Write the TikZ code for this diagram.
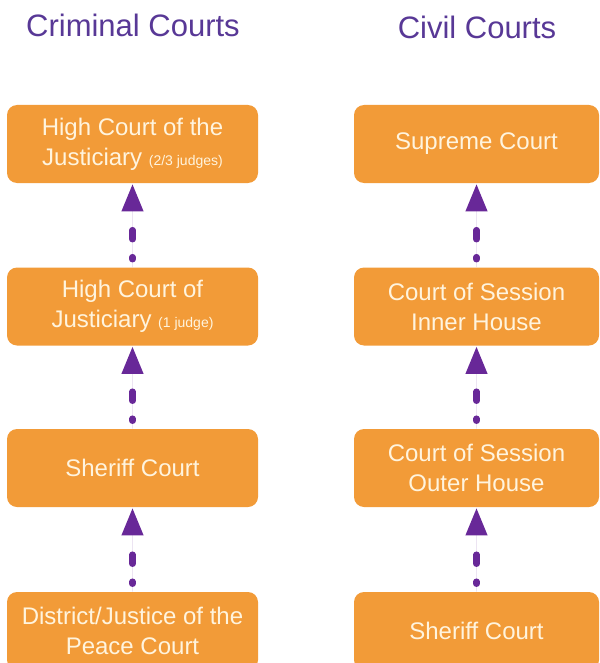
\documentclass[tikz,border=0pt]{standalone}
\usepackage{fontspec}
\setmainfont{Liberation Sans}
\usetikzlibrary{arrows.meta}
\definecolor{courtorange}{RGB}{242,155,56}
\definecolor{courttext}{RGB}{255,244,222}
\definecolor{titlepurple}{RGB}{88,56,150}
\definecolor{arrowpurple}{RGB}{104,40,152}
\newcommand{\judges}[1]{{\fontsize{14}{16}\selectfont #1}}

\begin{document}
\begin{tikzpicture}[x=1pt, y=-1pt, >={Triangle[width=20pt,length=28pt]}, semithick]
    \tikzstyle{court}=[rectangle, rounded corners=10pt, fill=courtorange, text=courttext, minimum height=78pt, align=center, font=\fontsize{24}{30}\selectfont]
    \tikzstyle{crim}=[court, minimum width=251pt]
    \tikzstyle{civ}=[court, minimum width=245pt]
    \tikzstyle{heading}=[text=titlepurple, font=\fontsize{31}{36}\selectfont]
    \tikzstyle{appeal}=[->, draw=arrowpurple, fill=arrowpurple, line width=6.5pt, dash pattern=on 2pt off 18pt on 9pt off 106pt, dash phase=127pt, line cap=round]

    \useasboundingbox (0,0) rectangle (599,663);

    \node[heading] (crimtitle) at (133,25) {Criminal Courts};
    \node[heading] (civtitle) at (477,27) {Civil Courts};

    % criminal side
    \node[crim] (hcj3) at (132.5,144) {High Court of the\\Justiciary \judges{(2/3 judges)}};
    \node[crim] (hcj1) at (132.5,306.5) {High Court of\\Justiciary \judges{(1 judge)}};
    \node[crim] (sher1) at (132.5,468) {Sheriff Court};
    \node[crim] (jp) at (132.5,631) {District/Justice of the\\Peace Court};

    % civil side
    \node[civ] (sup) at (476.5,144) {Supreme Court};
    \node[civ] (inner) at (476.5,306.5) {Court of Session\\Inner House};
    \node[civ] (outer) at (476.5,468) {Court of Session\\Outer House};
    \node[civ] (sher2) at (476.5,631) {Sheriff Court};

    \draw[appeal] (hcj1) -- (hcj3);
    \draw[appeal] (sher1) -- (hcj1);
    \draw[appeal] (jp) -- (sher1);
    \draw[appeal] (inner) -- (sup);
    \draw[appeal] (outer) -- (inner);
    \draw[appeal] (sher2) -- (outer);

\end{tikzpicture}
\end{document}
